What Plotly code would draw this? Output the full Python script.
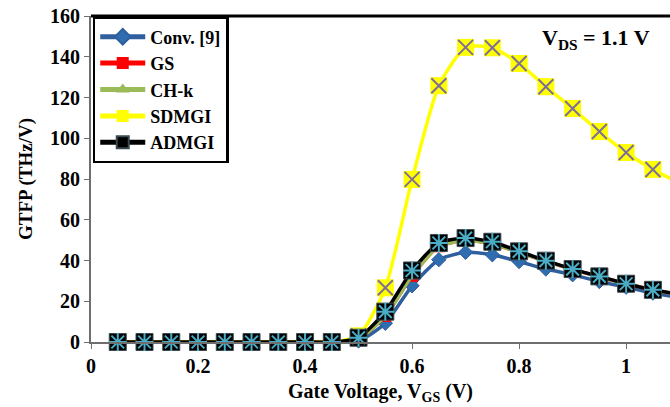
import plotly.graph_objects as go

# Gate voltage sweep (V)
vgs = [0.05, 0.10, 0.15, 0.20, 0.25, 0.30, 0.35, 0.40, 0.45, 0.50,
       0.55, 0.60, 0.65, 0.70, 0.75, 0.80, 0.85, 0.90, 0.95, 1.00, 1.05, 1.10]

# GTFP (THz/V) for each device structure
conv = [0, 0, 0, 0, 0, 0, 0, 0, 0, 0.5,
        9.2, 27.6, 40.4, 44.0, 42.8, 39.5, 35.8, 33.0, 29.7, 26.9, 24.0, 21.8]
gs = [0, 0, 0, 0, 0, 0, 0, 0, 0, 1.5,
      12.8, 32.5, 47.0, 49.8, 48.2, 44.0, 39.6, 35.6, 32.0, 28.6, 25.6, 23.2]
chk = [0, 0, 0, 0, 0, 0, 0, 0, 0, 1.5,
       12.8, 32.5, 47.0, 49.8, 48.2, 44.0, 39.6, 35.6, 32.0, 28.6, 25.6, 23.2]
sdmgi = [0, 0, 0, 0, 0, 0, 0, 0, 0, 3.0,
         26.6, 79.8, 125.8, 144.6, 144.4, 136.7, 125.3, 114.6, 103.3, 93.0, 84.7, 78.0]
admgi = [0, 0, 0, 0, 0, 0, 0, 0, 0, 2.1,
         14.9, 35.1, 48.6, 51.0, 49.2, 44.5, 39.9, 35.8, 32.2, 28.6, 25.6, 23.4]

x_ticks = [0, 0.2, 0.4, 0.6, 0.8, 1.0]
x_tick_text = ["0", "0.2", "0.4", "0.6", "0.8", "1"]
y_ticks = [0, 20, 40, 60, 80, 100, 120, 140, 160]

SERIF = "Liberation Serif, Times New Roman, serif"

fig = go.Figure()

fig.add_trace(go.Scatter(
    x=vgs, y=conv, name="Conv. [9]", mode="lines+markers",
    line=dict(color="#2F5F9E", width=3.5, shape="spline", smoothing=0.6),
    marker=dict(symbol="diamond", size=11, color="#2F6CB0",
                line=dict(color="#2F5F9E", width=1)),
    cliponaxis=False))

fig.add_trace(go.Scatter(
    x=vgs, y=gs, name="GS", mode="lines+markers",
    line=dict(color="#FF0000", width=3.5, shape="spline", smoothing=0.6),
    marker=dict(symbol="square", size=12, color="#FF0000"),
    cliponaxis=False))

fig.add_trace(go.Scatter(
    x=vgs, y=chk, name="CH-k", mode="lines+markers",
    line=dict(color="#9BBB59", width=3.5, shape="spline", smoothing=0.6),
    marker=dict(symbol="triangle-up", size=12, color="#9BBB59"),
    cliponaxis=False))

fig.add_trace(go.Scatter(
    x=vgs, y=sdmgi, name="SDMGI", mode="lines+markers", legendgroup="sd",
    line=dict(color="#FFFF00", width=3.5, shape="spline", smoothing=0.6),
    marker=dict(symbol="square", size=17, color="#FFFF00"),
    cliponaxis=False))
fig.add_trace(go.Scatter(
    x=vgs, y=sdmgi, mode="markers", legendgroup="sd", showlegend=False,
    marker=dict(symbol="x-thin-open", size=15, color="#7E6E9A",
                line=dict(width=2)),
    cliponaxis=False, hoverinfo="skip"))

fig.add_trace(go.Scatter(
    x=vgs, y=admgi, name="ADMGI", mode="lines+markers", legendgroup="ad",
    line=dict(color="#000000", width=3.5, shape="spline", smoothing=0.6),
    marker=dict(symbol="square", size=17, color="#000000",
                line=dict(color="#3A4A50", width=1)),
    cliponaxis=False))
fig.add_trace(go.Scatter(
    x=vgs, y=admgi, mode="markers", legendgroup="ad", showlegend=False,
    marker=dict(symbol="asterisk-open", size=15, color="#4BACC6",
                line=dict(width=2)),
    cliponaxis=False, hoverinfo="skip"))

fig.update_layout(
    width=670, height=407,
    margin=dict(l=91, r=0, t=16, b=65),
    paper_bgcolor="white", plot_bgcolor="white",
    font=dict(family=SERIF, size=19, color="#000000"),
    showlegend=True,
    legend=dict(
        x=0.003, y=1.0, xanchor="left", yanchor="top",
        bgcolor="white", bordercolor="#000000", borderwidth=2.5,
        font=dict(family=SERIF, size=18, color="#000000", weight="bold"),
        tracegroupgap=0, itemwidth=45, itemsizing="constant",
    ),
    xaxis=dict(
        range=[0, 1.082], tickvals=x_ticks, ticktext=x_tick_text,
        showgrid=False, zeroline=False,
        showline=True, linecolor="#6E6E6E", linewidth=2,
        ticks="outside", ticklen=5, tickcolor="#6E6E6E",
        tickfont=dict(family=SERIF, size=20, color="#000000", weight="bold"),
        title=dict(text="<b>Gate Voltage, V<sub>GS</sub> (V)</b>",
                   font=dict(family=SERIF, size=20, color="#000000"),
                   standoff=8),
    ),
    yaxis=dict(
        range=[0, 160], tickvals=y_ticks,
        showgrid=False, zeroline=False,
        showline=True, linecolor="#6E6E6E", linewidth=2,
        ticks="outside", ticklen=5, tickcolor="#6E6E6E",
        tickfont=dict(family=SERIF, size=20, color="#000000", weight="bold"),
        title=dict(text="<b>GTFP (THz/V)</b>",
                   font=dict(family=SERIF, size=19, color="#000000"),
                   standoff=12),
    ),
    annotations=[dict(
        x=1.0486, y=148.7, xref="x", yref="y", xanchor="right", yanchor="middle",
        text="<b>V<sub>DS</sub> = 1.1 V</b>", showarrow=False,
        font=dict(family=SERIF, size=22, color="#000000"),
    )],
    shapes=[dict(
        type="line", xref="paper", yref="paper", x0=0, x1=1.0, y0=1.0, y1=1.0,
        line=dict(color="#000000", width=3),
    )],
)

fig.write_html("out.html")
